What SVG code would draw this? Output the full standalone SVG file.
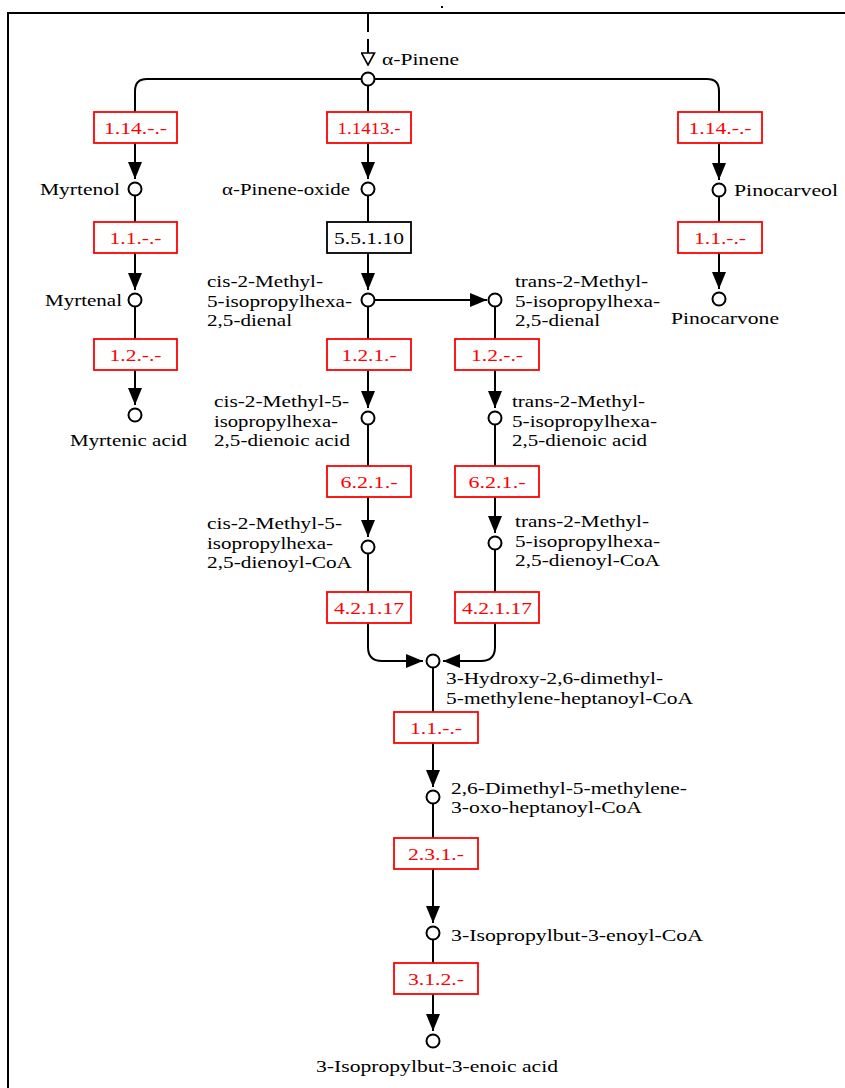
<svg xmlns="http://www.w3.org/2000/svg" width="845" height="1088" viewBox="0 0 845 1088">
<style>
text{font-family:'Liberation Serif','Times New Roman','DejaVu Serif','Noto Serif',serif;font-size:17.5px;fill:#000}
.e{fill:#ff0000;text-anchor:middle}
.eb{text-anchor:middle}
.m{text-anchor:middle}
.r{text-anchor:end}
.box{fill:#fff;stroke:#ff0000;stroke-width:1.8}
.boxb{fill:#fff;stroke:#000;stroke-width:1.8}
.c{fill:#fff;stroke:#000;stroke-width:2}
.ln{fill:none;stroke:#000;stroke-width:2}
.ar{fill:none;stroke:#000;stroke-width:2;marker-end:url(#arr)}
</style>
<defs>
<marker id="arr" markerUnits="userSpaceOnUse" viewBox="0 0 17 14" refX="17" refY="7" markerWidth="17" markerHeight="14" orient="auto">
<path d="M0,0 L17,7 L0,14 z" fill="#000"/>
</marker>
<marker id="oarr" markerUnits="userSpaceOnUse" viewBox="-1 -1 14 15" refX="12" refY="6.5" markerWidth="14" markerHeight="15" orient="auto">
<path d="M0,0 L12,6.5 L0,13 z" fill="#fff" stroke="#000" stroke-width="1.6"/>
</marker>
</defs>
<rect width="845" height="1088" fill="#fff"/>
<g id="frame">
<path d="M8,1088 V13 H845" class="ln"/>
<rect x="441" y="6" width="2" height="2" fill="#000"/>
</g>
<g id="connectors">
<path d="M368,13 V53" fill="none" stroke="#000" stroke-width="2" stroke-dasharray="19 7"/>
<path d="M368,52 V65" fill="none" stroke="none" marker-end="url(#oarr)"/>
<path d="M368,79 H147 Q135,79 135,91 V112" class="ln"/>
<path d="M368,79 H707 Q719,79 719,91 V112" class="ln"/>
<path d="M368,86 V112" class="ln"/>
<path d="M135,143 V179" class="ar"/>
<path d="M135,196 V222" class="ln"/>
<path d="M135,253 V290" class="ar"/>
<path d="M135,307 V339" class="ln"/>
<path d="M135,370 V405" class="ar"/>
<path d="M368,143 V179" class="ar"/>
<path d="M368,196 V222" class="ln"/>
<path d="M368,253 V290" class="ar"/>
<path d="M368,307 V339" class="ln"/>
<path d="M375,300 H487" class="ar"/>
<path d="M368,370 V408" class="ar"/>
<path d="M368,425 V466" class="ln"/>
<path d="M368,497 V537" class="ar"/>
<path d="M368,554 V592" class="ln"/>
<path d="M495,307 V339" class="ln"/>
<path d="M495,370 V408" class="ar"/>
<path d="M495,425 V466" class="ln"/>
<path d="M495,497 V533" class="ar"/>
<path d="M495,550 V592" class="ln"/>
<path d="M368,623 V647 Q368,661 382,661 H423" class="ar"/>
<path d="M495,623 V647 Q495,661 481,661 H443" class="ar"/>
<path d="M433,668 V712" class="ln"/>
<path d="M433,743 V787" class="ar"/>
<path d="M433,804 V838" class="ln"/>
<path d="M433,869 V923" class="ar"/>
<path d="M433,940 V963" class="ln"/>
<path d="M433,994 V1031" class="ar"/>
<path d="M719,143 V180" class="ar"/>
<path d="M719,197 V222" class="ln"/>
<path d="M719,253 V289" class="ar"/>
</g>
<g id="ec_1_14_left"><rect x="94" y="112" width="83" height="31" class="box"/><text x="135.5" y="134" class="e" textLength="63" lengthAdjust="spacingAndGlyphs">1.14.-.-</text></g>
<g id="ec_1_14_13"><rect x="327" y="112" width="84" height="31" class="box"/><text x="369" y="134" class="e" textLength="63" lengthAdjust="spacingAndGlyphs">1.1413.-</text></g>
<g id="ec_1_14_right"><rect x="678" y="112" width="84" height="31" class="box"/><text x="720" y="134" class="e" textLength="63" lengthAdjust="spacingAndGlyphs">1.14.-.-</text></g>
<g id="ec_1_1_left"><rect x="94" y="222" width="83" height="31" class="box"/><text x="135.5" y="244" class="e" textLength="52" lengthAdjust="spacingAndGlyphs">1.1.-.-</text></g>
<g id="ec_5_5_1_10"><rect x="327" y="222" width="84" height="31" class="boxb"/><text x="369" y="244" class="eb" textLength="70" lengthAdjust="spacingAndGlyphs">5.5.1.10</text></g>
<g id="ec_1_1_right"><rect x="678" y="222" width="84" height="31" class="box"/><text x="720" y="244" class="e" textLength="52" lengthAdjust="spacingAndGlyphs">1.1.-.-</text></g>
<g id="ec_1_2_left"><rect x="94" y="339" width="83" height="31" class="box"/><text x="135.5" y="361" class="e" textLength="52" lengthAdjust="spacingAndGlyphs">1.2.-.-</text></g>
<g id="ec_1_2_1"><rect x="327" y="339" width="84" height="31" class="box"/><text x="369" y="361" class="e" textLength="55" lengthAdjust="spacingAndGlyphs">1.2.1.-</text></g>
<g id="ec_1_2_trans"><rect x="455" y="339" width="84" height="31" class="box"/><text x="497" y="361" class="e" textLength="52" lengthAdjust="spacingAndGlyphs">1.2.-.-</text></g>
<g id="ec_6_2_1_cis"><rect x="327" y="466" width="84" height="31" class="box"/><text x="369" y="488" class="e" textLength="57" lengthAdjust="spacingAndGlyphs">6.2.1.-</text></g>
<g id="ec_6_2_1_trans"><rect x="455" y="466" width="84" height="31" class="box"/><text x="497" y="488" class="e" textLength="57" lengthAdjust="spacingAndGlyphs">6.2.1.-</text></g>
<g id="ec_4_2_1_17_cis"><rect x="327" y="592" width="84" height="31" class="box"/><text x="369" y="614" class="e" textLength="70" lengthAdjust="spacingAndGlyphs">4.2.1.17</text></g>
<g id="ec_4_2_1_17_trans"><rect x="455" y="592" width="84" height="31" class="box"/><text x="497" y="614" class="e" textLength="70" lengthAdjust="spacingAndGlyphs">4.2.1.17</text></g>
<g id="ec_1_1_bottom"><rect x="394" y="712" width="84" height="31" class="box"/><text x="436" y="734" class="e" textLength="52" lengthAdjust="spacingAndGlyphs">1.1.-.-</text></g>
<g id="ec_2_3_1"><rect x="394" y="838" width="84" height="31" class="box"/><text x="436" y="860" class="e" textLength="56" lengthAdjust="spacingAndGlyphs">2.3.1.-</text></g>
<g id="ec_3_1_2"><rect x="394" y="963" width="84" height="31" class="box"/><text x="436" y="985" class="e" textLength="56" lengthAdjust="spacingAndGlyphs">3.1.2.-</text></g>
<g id="alpha_pinene"><circle cx="368" cy="79" r="6.5" class="c"/><text x="382" y="65" textLength="77" lengthAdjust="spacingAndGlyphs">α-Pinene</text></g>
<g id="myrtenol"><circle cx="135" cy="189" r="6.5" class="c"/><text x="40" y="195" textLength="80" lengthAdjust="spacingAndGlyphs">Myrtenol</text></g>
<g id="alpha_pinene_oxide"><circle cx="368" cy="189" r="6.5" class="c"/><text x="222" y="195" textLength="128" lengthAdjust="spacingAndGlyphs">α-Pinene-oxide</text></g>
<g id="pinocarveol"><circle cx="719" cy="190" r="6.5" class="c"/><text x="734" y="196" textLength="104" lengthAdjust="spacingAndGlyphs">Pinocarveol</text></g>
<g id="myrtenal"><circle cx="135" cy="300" r="6.5" class="c"/><text x="45" y="306" textLength="77" lengthAdjust="spacingAndGlyphs">Myrtenal</text></g>
<g id="cis_dienal"><circle cx="368" cy="300" r="6.5" class="c"/>
<text x="207" y="287" textLength="116" lengthAdjust="spacingAndGlyphs">cis-2-Methyl-</text>
<text x="207" y="306.5" textLength="145" lengthAdjust="spacingAndGlyphs">5-isopropylhexa-</text>
<text x="207" y="326" textLength="85" lengthAdjust="spacingAndGlyphs">2,5-dienal</text></g>
<g id="trans_dienal"><circle cx="495" cy="300" r="6.5" class="c"/>
<text x="515" y="287" textLength="133" lengthAdjust="spacingAndGlyphs">trans-2-Methyl-</text>
<text x="515" y="306.5" textLength="145" lengthAdjust="spacingAndGlyphs">5-isopropylhexa-</text>
<text x="515" y="326" textLength="85" lengthAdjust="spacingAndGlyphs">2,5-dienal</text></g>
<g id="pinocarvone"><circle cx="719" cy="299" r="6.5" class="c"/><text x="671" y="324" textLength="108" lengthAdjust="spacingAndGlyphs">Pinocarvone</text></g>
<g id="myrtenic_acid"><circle cx="135" cy="415" r="6.5" class="c"/><text x="70" y="446" textLength="117" lengthAdjust="spacingAndGlyphs">Myrtenic acid</text></g>
<g id="cis_acid"><circle cx="368" cy="418" r="6.5" class="c"/>
<text x="214" y="407" textLength="135" lengthAdjust="spacingAndGlyphs">cis-2-Methyl-5-</text>
<text x="214" y="426.5" textLength="124" lengthAdjust="spacingAndGlyphs">isopropylhexa-</text>
<text x="214" y="446" textLength="136" lengthAdjust="spacingAndGlyphs">2,5-dienoic acid</text></g>
<g id="trans_acid"><circle cx="495" cy="418" r="6.5" class="c"/>
<text x="512" y="407" textLength="133" lengthAdjust="spacingAndGlyphs">trans-2-Methyl-</text>
<text x="512" y="426.5" textLength="145" lengthAdjust="spacingAndGlyphs">5-isopropylhexa-</text>
<text x="512" y="446" textLength="135" lengthAdjust="spacingAndGlyphs">2,5-dienoic acid</text></g>
<g id="cis_coa"><circle cx="368" cy="547" r="6.5" class="c"/>
<text x="207" y="529" textLength="135" lengthAdjust="spacingAndGlyphs">cis-2-Methyl-5-</text>
<text x="207" y="548.5" textLength="126" lengthAdjust="spacingAndGlyphs">isopropylhexa-</text>
<text x="207" y="568" textLength="145" lengthAdjust="spacingAndGlyphs">2,5-dienoyl-CoA</text></g>
<g id="trans_coa"><circle cx="495" cy="543" r="6.5" class="c"/>
<text x="515" y="527" textLength="134" lengthAdjust="spacingAndGlyphs">trans-2-Methyl-</text>
<text x="515" y="546.5" textLength="145" lengthAdjust="spacingAndGlyphs">5-isopropylhexa-</text>
<text x="515" y="566" textLength="145" lengthAdjust="spacingAndGlyphs">2,5-dienoyl-CoA</text></g>
<g id="hydroxy_coa"><circle cx="433" cy="661" r="6.5" class="c"/>
<text x="446" y="684" textLength="217" lengthAdjust="spacingAndGlyphs">3-Hydroxy-2,6-dimethyl-</text>
<text x="446" y="703.5" textLength="247" lengthAdjust="spacingAndGlyphs">5-methylene-heptanoyl-CoA</text></g>
<g id="oxo_coa"><circle cx="433" cy="797" r="6.5" class="c"/>
<text x="451" y="794" textLength="236" lengthAdjust="spacingAndGlyphs">2,6-Dimethyl-5-methylene-</text>
<text x="451" y="813" textLength="191" lengthAdjust="spacingAndGlyphs">3-oxo-heptanoyl-CoA</text></g>
<g id="enoyl_coa"><circle cx="433" cy="933" r="6.5" class="c"/><text x="451" y="941" textLength="252" lengthAdjust="spacingAndGlyphs">3-Isopropylbut-3-enoyl-CoA</text></g>
<g id="enoic_acid"><circle cx="433" cy="1041" r="6.5" class="c"/><text x="316" y="1072" textLength="242" lengthAdjust="spacingAndGlyphs">3-Isopropylbut-3-enoic acid</text></g>
</svg>
